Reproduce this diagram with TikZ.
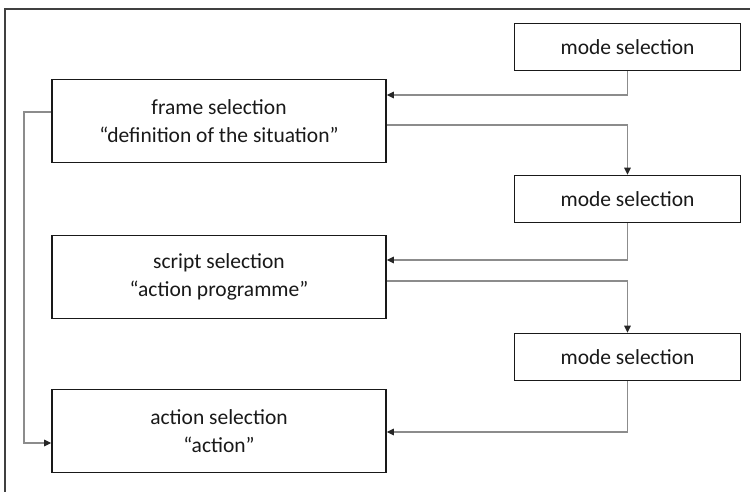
\documentclass[tikz,border=0pt]{standalone}
\usepackage{fontspec}
\setmainfont{Carlito}
\usetikzlibrary{arrows.meta}
\begin{document}
\begin{tikzpicture}[x=1pt,y=-1pt,
  box/.style={draw=black!90, line width=1.6pt, fill=white, inner sep=0pt,
    align=center, font=\fontsize{21.5}{28}\selectfont, text=black!90},
  bigbox/.style={box, minimum width=334pt, minimum height=83pt},
  modebox/.style={box, minimum width=226pt, minimum height=47pt},
  conn/.style={draw=black!45, line width=1.2pt,
    -{Triangle[length=7pt,width=6.5pt,color=black!85]}},
  outer/.style={draw=black!75, line width=2pt}]
\useasboundingbox (0,0) rectangle (750,492);
\coordinate (fbl) at (5,500);
\coordinate (ftl) at (5,9);
\coordinate (ftr) at (760,9);
\draw[outer] (fbl) -- (ftl) -- (ftr);
\node[modebox] (m1) at (627.5,47) {mode selection};
\node[bigbox] (frame) at (219,121) {frame selection\\“definition of the situation”};
\node[modebox] (m2) at (627.5,199) {mode selection};
\node[bigbox] (script) at (219,277) {script selection\\“action programme”};
\node[modebox] (m3) at (627.5,357) {mode selection};
\node[bigbox] (action) at (219,431) {action selection\\“action”};
\coordinate (loopx) at (24,300);
\draw[conn] (m1.south) |- (frame.east |- 0,95);
\draw[conn] (frame.east |- 0,125) -| (m2.north);
\draw[conn] (m2.south) |- (script.east |- 0,260);
\draw[conn] (script.east |- 0,281) -| (m3.north);
\draw[conn] (m3.south) |- (action.east |- 0,432);
\draw[conn] (frame.west |- 0,112) -| (loopx) |- (action.west |- 0,443);
\end{tikzpicture}
\end{document}
